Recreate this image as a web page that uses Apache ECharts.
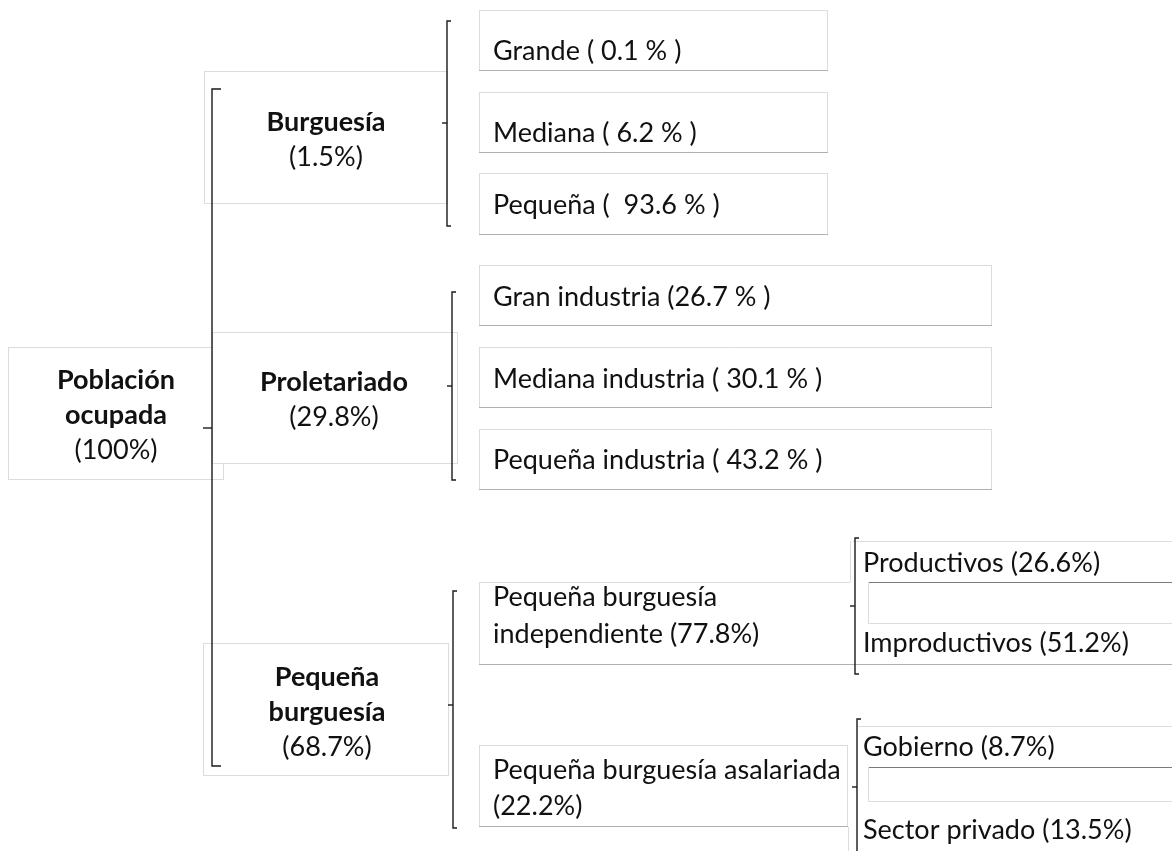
<!DOCTYPE html>
<html>
<head>
<meta charset="utf-8">
<script src="https://cdn.jsdelivr.net/npm/echarts@6/dist/echarts.min.js"></script>
<style>
html,body{margin:0;padding:0;background:#fff;}
#c{width:1172px;height:851px;}
</style>
</head>
<body>
<div id="c"></div>
<script>
// ---- data ----
const rootName = 'Población\nocupada';
const rootShare = 100;
const classNames = ['Burguesía', 'Proletariado', 'Pequeña\nburguesía'];
const classShares = [1.5, 29.8, 68.7];
const burguesiaNames = ['Grande', 'Mediana', 'Pequeña'];
const burguesiaShares = [0.1, 6.2, 93.6];
const burguesiaPads = [' ', ' ', '  '];
const proletariadoNames = ['Gran industria', 'Mediana industria', 'Pequeña industria'];
const proletariadoShares = [26.7, 30.1, 43.2];
const proletariadoPads = ['', ' ', ' '];
const pequenaNames = ['Pequeña burguesía\nindependiente', 'Pequeña burguesía asalariada\n'];
const pequenaShares = [77.8, 22.2];
const independienteNames = ['Productivos', 'Improductivos'];
const independienteShares = [26.6, 51.2];
const asalariadaNames = ['Gobierno', 'Sector privado'];
const asalariadaShares = [8.7, 13.5];

// ---- layout (drawing only) ----
const FONT = 'Lato, "Open Sans", sans-serif';
const FS = 27;
const LIGHT = '#dcdcdc';
const MID = '#b0b0b0';
const DARK = '#7a7a7a';
const els = [];
function line(x1, y1, x2, y2, color, w) {
  els.push({type: 'line', silent: true,
    shape: {x1: x1, y1: y1, x2: x2, y2: y2},
    style: {stroke: color, lineWidth: w || 1}});
}
function fillRect(x, y, w, h) {
  els.push({type: 'rect', silent: true, shape: {x: x, y: y, width: w, height: h}, style: {fill: '#ffffff'}});
}
function box(x, y, w, h, bottom) {
  fillRect(x, y, w, h);
  line(x, y + 0.5, x + w, y + 0.5, LIGHT);
  line(x + 0.5, y, x + 0.5, y + h, LIGHT);
  line(x + w - 0.5, y, x + w - 0.5, y + h, LIGHT);
  line(x, y + h - 0.5, x + w, y + h - 0.5, bottom || MID, 1.2);
}
function text(str, x, y, opts) {
  opts = opts || {};
  els.push({type: 'text', silent: true, x: x, y: y, style: {
    text: str, fill: '#111', font: (opts.bold ? 'bold ' : '') + FS + 'px ' + FONT,
    align: opts.align || 'left', verticalAlign: 'middle', lineHeight: opts.lh || 35
  }});
}
function bracket(x, y1, y2, ym, hook, tick) {
  els.push({type: 'polyline', silent: true,
    shape: {points: [[x + hook, y1], [x, y1], [x, y2], [x + hook, y2]]},
    style: {stroke: '#1a1a1a', lineWidth: 1.4, fill: null}});
  line(x - tick, ym, x, ym, '#1a1a1a', 1.4);
}

// level 0 and 1 boxes
const rootBox = {x: 8, y: 347, w: 216, h: 133, cx: 116, cy: 415};
const classBoxes = [
  {x: 204, y: 71, w: 244, h: 133, cx: 326, cy: 139.5},
  {x: 212, y: 332, w: 246, h: 132, cx: 334, cy: 399.5},
  {x: 203, y: 643, w: 246, h: 133, cx: 327, cy: 712}
];
box(rootBox.x, rootBox.y, rootBox.w, rootBox.h, LIGHT);
classBoxes.forEach(function (b) { box(b.x, b.y, b.w, b.h, LIGHT); });
function classLabel(name, share, b) {
  const lines = name.split('\n');
  const all = lines.concat(['(' + share + '%)']);
  const top = b.cy - (all.length - 1) * 35 / 2;
  all.forEach(function (s, k) {
    text(s, b.cx, top + k * 35, {align: 'center', bold: k < lines.length});
  });
}
classLabel(rootName, rootShare, rootBox);
classNames.forEach(function (n, i) { classLabel(n, classShares[i], classBoxes[i]); });

// level 2: burguesía
const bY = [10, 92, 173], bH = [61, 61, 62], bTY = [51, 133, 205];
burguesiaNames.forEach(function (n, i) {
  box(479, bY[i], 349, bH[i]);
  text(n + ' (' + burguesiaPads[i] + burguesiaShares[i] + ' % )', 493, bTY[i]);
});
// level 2: proletariado
const pY = [265, 347, 429], pTY = [297, 379, 460];
proletariadoNames.forEach(function (n, i) {
  box(479, pY[i], 513, 61);
  text(n + ' (' + proletariadoPads[i] + proletariadoShares[i] + ' % )', 493, pTY[i]);
});
// level 2: pequeña burguesía — independiente box + productivos/improductivos
fillRect(479, 582, 371, 82);
fillRect(850, 541, 322, 123);
line(479, 582.5, 850, 582.5, LIGHT);
line(850.5, 541, 850.5, 582, LIGHT);
line(853, 541.5, 1172, 541.5, LIGHT);
line(479.5, 582, 479.5, 664, LIGHT);
line(479, 664.5, 1172, 664.5, MID, 1.2);
line(868, 582.5, 1172, 582.5, DARK, 1.2);
line(868, 623.5, 1172, 623.5, LIGHT);
line(868.5, 582, 868.5, 623, LIGHT);
// asalariada box + gobierno/sector privado
box(479, 745, 369, 82, MID);
line(848.5, 827, 848.5, 851, LIGHT);
fillRect(857, 726, 315, 125);
line(857, 726.5, 1172, 726.5, LIGHT);
line(868, 767.5, 1172, 767.5, DARK, 1.2);
line(868, 801.5, 1172, 801.5, LIGHT);
line(868.5, 767, 868.5, 801, LIGHT);

const pbText = pequenaNames.map(function (n, i) {
  return n.endsWith('\n') ? n + '(' + pequenaShares[i] + '%)' : n + ' (' + pequenaShares[i] + '%)';
});
text(pbText[0], 493, 615.5, {lh: 37});
text(pbText[1], 493, 788, {lh: 36});

// level 3
const iTY = [563, 643];
independienteNames.forEach(function (n, i) { text(n + ' (' + independienteShares[i] + '%)', 863, iTY[i]); });
const aTY = [747, 830];
asalariadaNames.forEach(function (n, i) { text(n + ' (' + asalariadaShares[i] + '%)', 863, aTY[i]); });

// brackets
bracket(212, 89, 766, 428, 9, 9);
bracket(447, 21, 226, 123, 4, 5);
bracket(452, 292, 480, 386, 4, 5);
bracket(453, 591, 828, 705, 4, 5);
bracket(855, 538, 674, 606, 4, 5);
bracket(857, 719, 860, 787, 4, 5);

const chart = echarts.init(document.getElementById('c'), null, {renderer: 'canvas'});
chart.setOption({
  backgroundColor: '#ffffff',
  animation: false,
  graphic: {elements: els}
});
</script>
</body>
</html>
